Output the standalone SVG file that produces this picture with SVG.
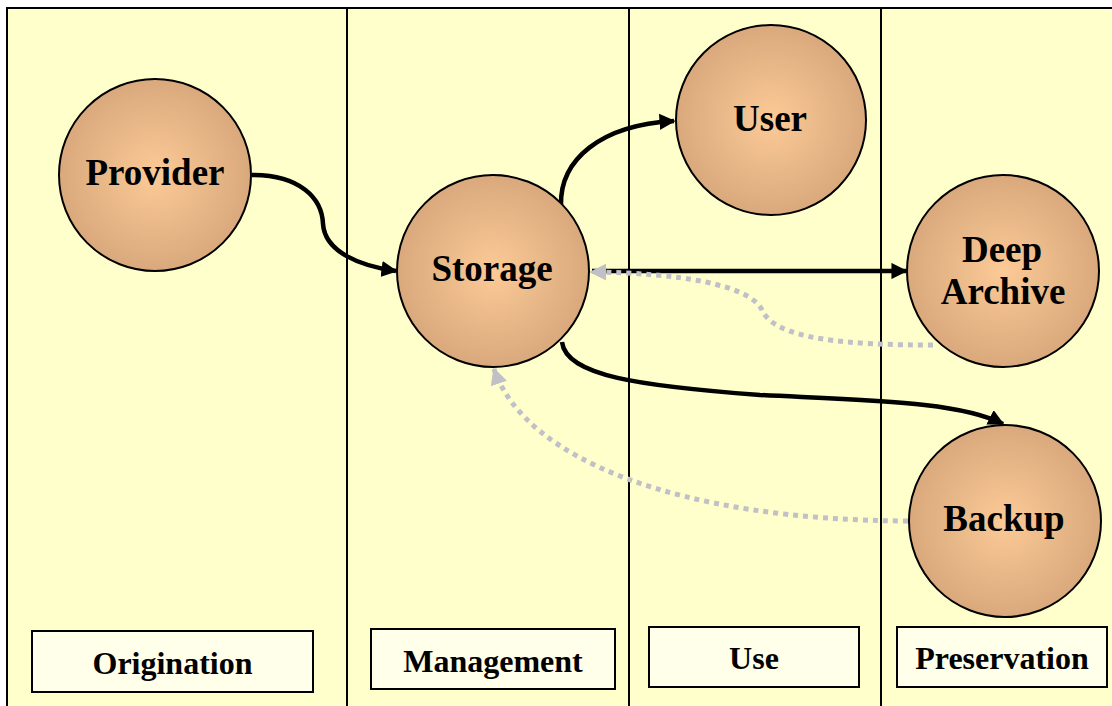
<svg xmlns="http://www.w3.org/2000/svg" width="1112" height="706" viewBox="0 0 1112 706">
  <defs>
    <radialGradient id="ball" cx="50%" cy="50%" r="50%">
      <stop offset="0" stop-color="#FCCA96"/>
      <stop offset="1" stop-color="#D9A97D"/>
    </radialGradient>
    <marker id="arrBlack" viewBox="0 0 10 10" refX="9" refY="5" markerWidth="3.6" markerHeight="3.6" orient="auto" markerUnits="strokeWidth">
      <path d="M0,0 L10,5 L0,10 Z" fill="#000"/>
    </marker>
    <marker id="arrGray" viewBox="0 0 10 10" refX="9" refY="5" markerWidth="3.4" markerHeight="3.4" orient="auto" markerUnits="strokeWidth">
      <path d="M0,0 L10,5 L0,10 Z" fill="#C0C0C6"/>
    </marker>
  </defs>
  <style>
    .lane { fill: #FFFFCC; stroke: #000; stroke-width: 2; }
    .node { fill: url(#ball); stroke: #000; stroke-width: 2; }
    .ntext { font-family: "Liberation Serif", "Times New Roman", serif; font-weight: bold; font-size: 37px; fill: #000; text-anchor: middle; }
    .tag { fill: #FFFFEA; stroke: #000; stroke-width: 2; }
    .ttext { font-family: "Liberation Serif", "Times New Roman", serif; font-weight: bold; font-size: 32px; fill: #000; text-anchor: middle; }
    .flow { fill: none; stroke: #000; stroke-width: 4.5; }
    .back { fill: none; stroke: #C0C0C6; stroke-width: 5; stroke-dasharray: 5 5; }
  </style>

  <rect width="1112" height="706" fill="#FFFFFF"/>

  <!-- swimlanes -->
  <g id="lanes">
    <rect class="lane" x="7" y="8" width="340" height="710"/>
    <rect class="lane" x="347" y="8" width="282" height="710"/>
    <rect class="lane" x="629" y="8" width="252" height="710"/>
    <rect class="lane" x="881" y="8" width="240" height="710"/>
  </g>

  <!-- lane titles -->
  <g id="lane-origination">
    <rect class="tag" x="32" y="631" width="281" height="61"/>
    <text class="ttext" x="172.5" y="674">Origination</text>
  </g>
  <g id="lane-management">
    <rect class="tag" x="371" y="629" width="244" height="60"/>
    <text class="ttext" x="493" y="672">Management</text>
  </g>
  <g id="lane-use">
    <rect class="tag" x="649" y="627" width="210" height="60"/>
    <text class="ttext" x="754" y="669">Use</text>
  </g>
  <g id="lane-preservation">
    <rect class="tag" x="897" y="627" width="210" height="60"/>
    <text class="ttext" x="1002" y="669">Preservation</text>
  </g>

  <!-- connectors -->
  <g id="connectors">
    <path class="flow" d="M252,175 C300,175 322,198 323,224 C325,252 360,266 396,271" marker-end="url(#arrBlack)"/>
    <path class="flow" d="M561,205 C560,160 600,125 674,121" marker-end="url(#arrBlack)"/>
    <path class="flow" d="M592,271 L906,271" marker-end="url(#arrBlack)"/>
    <path class="flow" d="M562,342 C566,376 640,386 760,395 C880,401 960,402 1003,424" marker-end="url(#arrBlack)"/>
    <path class="back" d="M933,345 C850,345 775,340 762,310 C750,285 680,273 591,272" marker-end="url(#arrGray)"/>
    <path class="back" d="M908,521 C680,520 525,460 494,369" marker-end="url(#arrGray)"/>
  </g>

  <!-- nodes -->
  <g id="provider">
    <circle class="node" cx="155" cy="175" r="96"/>
    <text class="ntext" x="155" y="185">Provider</text>
  </g>
  <g id="storage">
    <circle class="node" cx="493" cy="271" r="96"/>
    <text class="ntext" x="492" y="281">Storage</text>
  </g>
  <g id="user">
    <circle class="node" cx="771" cy="120" r="95"/>
    <text class="ntext" x="770" y="131">User</text>
  </g>
  <g id="deep-archive">
    <circle class="node" cx="1003" cy="271" r="96"/>
    <text class="ntext" x="1002" y="262">Deep</text>
    <text class="ntext" x="1003" y="304">Archive</text>
  </g>
  <g id="backup">
    <circle class="node" cx="1005" cy="521" r="96"/>
    <text class="ntext" x="1004" y="531">Backup</text>
  </g>
</svg>
